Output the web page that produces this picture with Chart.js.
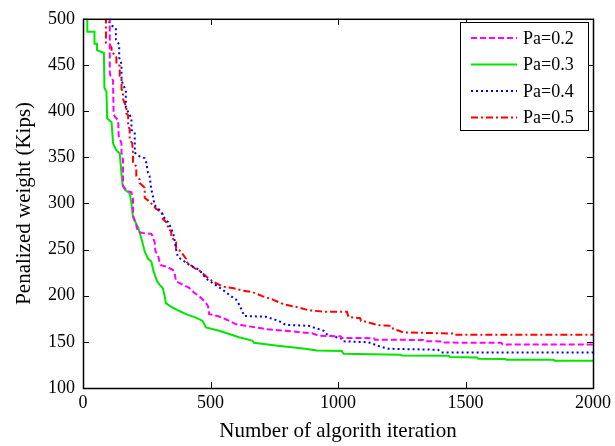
<!DOCTYPE html>
<html>
<head>
<meta charset="utf-8">
<script src="https://cdn.jsdelivr.net/npm/chart.js@4.4.0/dist/chart.umd.min.js"></script>
<style>
  html, body { margin: 0; padding: 0; background: #fff; }
</style>
</head>
<body>
<canvas id="myChart" width="615" height="446"></canvas>
<script>
// iteration / penalized weight (Kips)
let pa02X = [105, 105, 108, 118, 118, 120, 125, 138, 140, 151, 151, 157, 157, 170, 190, 196, 196, 209, 216, 235, 268, 272, 281, 284, 294, 300, 305, 326, 352, 360, 365, 391, 417, 437, 456, 482, 490, 495, 528, 560, 600, 638, 716, 794, 898, 924, 1010, 1015, 1140, 1145, 1335, 1340, 1415, 1418, 1640, 1646, 2000];
let pa02Y = [600, 442, 438, 433, 429, 397, 394, 390, 373, 365, 355, 347, 319, 314, 312, 305, 287, 276, 269, 268, 267, 265, 258, 248, 244, 237, 233, 231.6, 228, 223, 215.5, 212, 208.4, 203, 199.5, 192.3, 188.8, 180, 178, 174.5, 169, 167.4, 163.8, 162, 159.2, 156.7, 156, 154.2, 154, 152.4, 152, 150.6, 150.5, 149.2, 149, 147, 147];

let pa03X = [0, 17, 17, 45, 45, 55, 55, 82, 84, 92, 95, 112, 118, 130, 144, 150, 155, 164, 183, 190, 196, 216, 229, 242, 255, 268, 277, 290, 300, 313, 320, 325, 340, 352, 378, 404, 443, 469, 482, 534, 573, 612, 664, 671, 755, 872, 918, 1015, 1022, 1245, 1250, 1435, 1440, 1545, 1550, 1655, 1660, 1845, 1850, 2000];
let pa03Y = [500, 500, 486, 486, 473, 473, 466, 463, 425, 421, 392, 388, 365, 358, 354, 335, 320, 315, 311, 300, 285, 274, 262, 248, 240, 237, 226, 216, 212, 208, 200, 192, 189, 187, 183.4, 180, 176.3, 172.7, 165.6, 162, 158.5, 155, 151.3, 149, 146, 142.5, 140.6, 140, 137, 136, 135.3, 135, 133.5, 133, 131.8, 131.5, 130.7, 130.5, 129.5, 129.5];

let pa04X = [99, 99, 105, 116, 129, 129, 142, 142, 151, 151, 157, 168, 168, 177, 183, 190, 190, 203, 203, 222, 242, 248, 255, 261, 268, 274, 281, 300, 313, 320, 333, 346, 355, 359, 365, 372, 398, 417, 456, 476, 489, 508, 547, 580, 600, 612, 625, 632, 716, 768, 794, 885, 944, 957, 1015, 1020, 1119, 1165, 1197, 1392, 1405, 2000];
let pa04Y = [600, 500, 495, 492, 490, 477.5, 472, 458, 451, 433, 429, 422, 404.5, 399, 397, 390, 379.5, 377.8, 355, 351, 349, 344, 333, 329.6, 315, 308, 298, 293, 288, 284, 280, 273, 266, 260, 250, 242, 237, 233.4, 228, 221, 217.3, 213.7, 206.6, 199.5, 196, 190.6, 183, 178, 177.3, 172.7, 168.4, 167.4, 162, 158, 153.2, 150.6, 149.5, 145, 142.5, 141.4, 138.5, 138.5];

let pa05X = [90, 90, 95, 105, 112, 112, 125, 131, 131, 144, 144, 151, 151, 157, 157, 164, 170, 170, 177, 177, 183, 183, 193, 196, 196, 209, 209, 222, 222, 242, 242, 261, 287, 300, 313, 313, 333, 333, 346, 346, 365, 365, 385, 391, 404, 404, 437, 463, 482, 508, 547, 586, 625, 664, 703, 742, 788, 846, 885, 944, 1035, 1041, 1087, 1090, 1106, 1158, 1210, 1217, 1240, 1256, 1457, 1460, 2000];
let pa05Y = [600, 474, 473, 471.5, 468.7, 463.3, 461.5, 458, 451, 449, 438, 434.8, 424, 420.5, 413.4, 408, 404.5, 397.3, 395.5, 383, 381, 368.8, 365.2, 354.5, 344, 340, 329.6, 326, 322, 317, 306, 302, 294, 292, 288, 283, 278, 272.5, 270, 263.6, 258, 251, 248, 245, 240, 237, 230, 226, 221, 215.5, 210, 208.4, 205.5, 204, 199.5, 196, 190.6, 187.3, 184.2, 182.7, 182.7, 177, 175.6, 172.7, 172, 168.1, 167.4, 163.8, 162, 160.2, 159, 157.8, 157.8];

let seriesLabels = ["Pa=0.2", "Pa=0.3", "Pa=0.4", "Pa=0.5"];
let seriesColors = ["#ff00ff", "#00e600", "#0000ff", "#ff0000"];
let seriesDash = [[6, 3], [], [2, 3], [7, 3, 2, 3]];
let xTicks = [0, 500, 1000, 1500, 2000];
let yTicks = [100, 150, 200, 250, 300, 350, 400, 450, 500];

let fontFamily = "'Liberation Serif', 'Times New Roman', serif";

function toPoints(xs, ys) {
    return xs.map((x, i) => ({ x: x, y: ys[i] }));
}

let allX = [pa02X, pa03X, pa04X, pa05X];
let allY = [pa02Y, pa03Y, pa04Y, pa05Y];

let datasets = seriesLabels.map((label, i) => ({
    label: label,
    data: toPoints(allX[i], allY[i]),
    borderColor: seriesColors[i],
    backgroundColor: seriesColors[i],
    borderDash: seriesDash[i],
    borderWidth: 2,
    pointRadius: 0,
    fill: false,
    tension: 0
}));

// box round the plot with inward ticks on all four sides
const framePlugin = {
    id: 'frame',
    afterDraw(chart) {
        const { ctx, chartArea: a, scales } = chart;
        ctx.save();
        ctx.strokeStyle = '#000';
        ctx.lineWidth = 1.5;
        ctx.setLineDash([]);
        ctx.strokeRect(a.left + 0.5, a.top + 0.5, a.right - a.left, a.bottom - a.top);
        ctx.lineWidth = 1;
        ctx.beginPath();
        xTicks.forEach(v => {
            const px = Math.round(scales.x.getPixelForValue(v)) + 0.5;
            ctx.moveTo(px, a.bottom); ctx.lineTo(px, a.bottom - 6);
            ctx.moveTo(px, a.top); ctx.lineTo(px, a.top + 6);
        });
        yTicks.forEach(v => {
            const py = Math.round(scales.y.getPixelForValue(v)) + 0.5;
            ctx.moveTo(a.left, py); ctx.lineTo(a.left + 6, py);
            ctx.moveTo(a.right, py); ctx.lineTo(a.right - 6, py);
        });
        ctx.stroke();
        ctx.restore();
    }
};

// legend box in the upper right, inside the plot
const legendPlugin = {
    id: 'boxLegend',
    afterDraw(chart) {
        const { ctx } = chart;
        const bx = 460, by = 22, bw = 128, bh = 108;
        ctx.save();
        ctx.fillStyle = '#fff';
        ctx.fillRect(bx, by, bw, bh);
        ctx.strokeStyle = '#000';
        ctx.lineWidth = 1;
        ctx.strokeRect(bx + 0.5, by + 0.5, bw, bh);
        ctx.font = '18px ' + fontFamily;
        ctx.textBaseline = 'middle';
        ctx.fillStyle = '#000';
        chart.data.datasets.forEach((ds, i) => {
            const y = 38 + i * 26.5;
            ctx.strokeStyle = ds.borderColor;
            ctx.lineWidth = 2;
            ctx.setLineDash(ds.borderDash);
            ctx.beginPath();
            ctx.moveTo(471, y);
            ctx.lineTo(517, y);
            ctx.stroke();
            ctx.setLineDash([]);
            ctx.fillText(ds.label, 523, y + 1);
        });
        ctx.restore();
    }
};

new Chart(document.getElementById('myChart'), {
    type: 'line',
    data: { datasets: datasets },
    options: {
        responsive: false,
        animation: false,
        layout: { padding: { top: 14, right: 19, left: 0, bottom: 0 } },
        plugins: {
            legend: { display: false },
            tooltip: { enabled: false }
        },
        scales: {
            x: {
                type: 'linear',
                min: 0,
                max: 2000,
                afterBuildTicks(scale) { scale.ticks = xTicks.map(v => ({ value: v })); },
                ticks: {
                    color: '#000',
                    padding: 4,
                    font: { family: fontFamily, size: 18 },
                    maxRotation: 0,
                    callback: v => String(v)
                },
                grid: { display: false, drawTicks: false },
                border: { display: false },
                title: {
                    display: true,
                    text: 'Number of algorith iteration',
                    color: '#000',
                    font: { family: fontFamily, size: 21 },
                    padding: { top: 0, bottom: 2 }
                },
                afterFit(scale) { scale.height = 58; }
            },
            y: {
                type: 'linear',
                min: 100,
                max: 500,
                afterBuildTicks(scale) { scale.ticks = yTicks.map(v => ({ value: v })); },
                ticks: {
                    color: '#000',
                    padding: 8,
                    font: { family: fontFamily, size: 18 },
                    callback: v => String(v)
                },
                grid: { display: false, drawTicks: false },
                border: { display: false },
                title: {
                    display: true,
                    text: 'Penalized weight (Kips)',
                    color: '#000',
                    font: { family: fontFamily, size: 21 },
                    padding: { top: 12, bottom: 0 }
                },
                afterFit(scale) { scale.width = 83; }
            }
        }
    },
    plugins: [framePlugin, legendPlugin]
});
</script>
</body>
</html>
